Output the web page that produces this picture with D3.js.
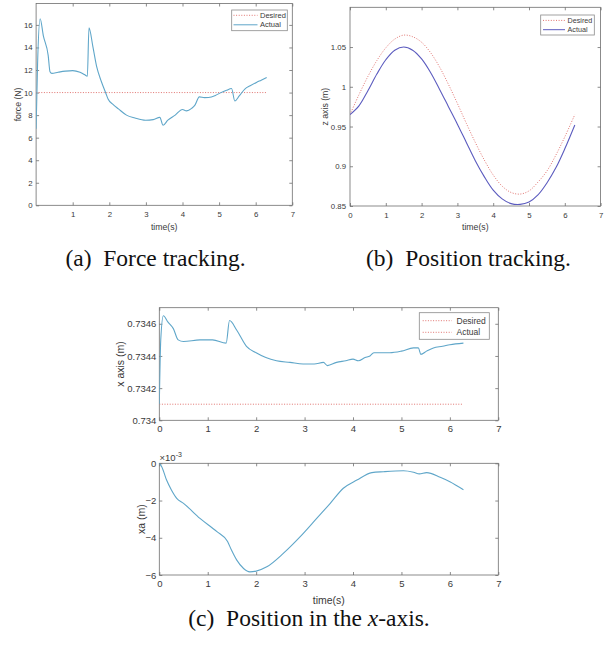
<!DOCTYPE html>
<html>
<head>
<meta charset="utf-8">
<script src="https://cdn.jsdelivr.net/npm/d3@7"></script>
<style>
  html, body { margin: 0; padding: 0; background: #fff; }
  svg { display: block; }
  .tick-label { font-family: "Liberation Sans", Arial, sans-serif; fill: #3a3a3a; }
  .caption { font-family: "Liberation Serif", "Times New Roman", serif; fill: #111; }
</style>
</head>
<body>
<svg id="fig" width="605" height="649"></svg>
<script>
// ---- (a) contact force ----
const forceTime   = [0.0, 0.04, 0.11, 0.2, 0.33, 0.38, 0.43, 0.6, 0.8, 1.0, 1.2, 1.32, 1.40, 1.445, 1.55, 1.655, 1.78, 1.91, 1.97, 2.1, 2.25, 2.47, 2.7, 2.99, 3.2, 3.38, 3.47, 3.6, 3.8, 4.0, 4.11, 4.25, 4.34, 4.46, 4.6, 4.71, 4.9, 5.02, 5.2, 5.34, 5.43, 5.55, 5.71, 5.85, 6.02, 6.15, 6.3];
const forceActual = [6.8, 12.5, 16.55, 15.0, 13.3, 11.85, 11.7, 11.8, 11.9, 11.95, 11.8, 11.6, 11.45, 15.75, 14.1, 12.3, 11.0, 9.9, 9.4, 8.95, 8.55, 8.0, 7.75, 7.55, 7.6, 7.8, 7.1, 7.55, 8.0, 8.5, 8.38, 8.6, 8.88, 9.62, 9.55, 9.56, 9.75, 9.95, 10.2, 10.36, 9.25, 9.7, 10.33, 10.6, 10.9, 11.1, 11.34];
const forceDesiredTime = [0.0, 6.28];
const forceDesired     = [10, 10];

// ---- (b) z position ----
const zTime    = [0, 0.25, 0.5, 0.75, 1.0, 1.25, 1.5, 1.75, 2.0, 2.25, 2.5, 2.75, 3.0, 3.25, 3.5, 3.75, 4.0, 4.25, 4.5, 4.75, 5.0, 5.25, 5.5, 5.75, 6.0, 6.28];
const zDesired = [0.965, 0.990, 1.013, 1.033, 1.049, 1.060, 1.065, 1.063, 1.056, 1.043, 1.025, 1.003, 0.979, 0.954, 0.930, 0.908, 0.889, 0.875, 0.867, 0.865, 0.869, 0.880, 0.894, 0.914, 0.937, 0.965];
const zActual  = [0.965, 0.976, 0.995, 1.016, 1.034, 1.046, 1.050, 1.046, 1.035, 1.018, 0.997, 0.975, 0.953, 0.930, 0.907, 0.887, 0.870, 0.859, 0.853, 0.852, 0.855, 0.864, 0.879, 0.898, 0.922, 0.952];

// ---- (c) x position ----
const xTime   = [0.0, 0.03, 0.083, 0.18, 0.29, 0.39, 0.5, 0.84, 1.1, 1.38, 1.45, 1.6, 1.8, 2.0, 2.2, 2.42, 2.7, 2.97, 3.2, 3.39, 3.47, 3.66, 3.85, 4.0, 4.11, 4.25, 4.35, 4.43, 4.76, 5.0, 5.25, 5.35, 5.4, 5.52, 5.66, 5.85, 6.0, 6.28];
const xActual = [0.73410, 0.73450, 0.73465, 0.73461, 0.73457, 0.73450, 0.73449, 0.73450, 0.73450, 0.73448, 0.73462, 0.73456, 0.73446, 0.73442, 0.73439, 0.73437, 0.73436, 0.73435, 0.73435, 0.73436, 0.73434, 0.73436, 0.73437, 0.73438, 0.73437, 0.73439, 0.73440, 0.73442, 0.73442, 0.73443, 0.73445, 0.73445, 0.73441, 0.73443, 0.73445, 0.73446, 0.73447, 0.73448];
const xDesiredTime = [0.0, 6.28];
const xDesired     = [0.7341, 0.7341];

// ---- (c) x error, units of 1e-3 m ----
const xaTime   = [0.0, 0.05, 0.15, 0.25, 0.36, 0.5, 0.84, 1.19, 1.41, 1.49, 1.6, 1.74, 1.87, 2.0, 2.22, 2.56, 2.91, 3.25, 3.53, 3.8, 4.08, 4.39, 4.63, 5.04, 5.25, 5.37, 5.52, 5.8, 6.0, 6.28];
const xaValues = [0.0, -0.18, -0.9, -1.43, -1.88, -2.15, -2.96, -3.67, -4.2, -4.66, -5.2, -5.65, -5.83, -5.79, -5.56, -4.84, -3.94, -2.96, -2.15, -1.34, -0.9, -0.5, -0.45, -0.4, -0.48, -0.57, -0.5, -0.75, -0.99, -1.42];

// ---- tick values ----
const timeTicks  = [0, 1, 2, 3, 4, 5, 6, 7];
const forceTicks = [0, 2, 4, 6, 8, 10, 12, 14, 16];
const zTicks     = [0.85, 0.9, 0.95, 1, 1.05];
const xTicks     = [0.734, 0.7342, 0.7344, 0.7346];
const xaTicks    = [-6, -4, -2, 0];

const desiredColor = "#e0736f";
const actualColor  = "#5fa6c9";
const zActualColor = "#5c5cbf";
const axisColor    = "#6e6e6e";

const svg = d3.select("#fig");

function panel(o) {
  const g = svg.append("g");
  const x = d3.scaleLinear().domain(o.xDomain).range([o.left, o.right]);
  const y = d3.scaleLinear().domain(o.yDomain).range([o.bottom, o.top]);
  const fs = o.fontSize;
  const tickLen = 3;

  // frame
  g.append("rect")
    .attr("x", o.left).attr("y", o.top)
    .attr("width", o.right - o.left).attr("height", o.bottom - o.top)
    .attr("fill", "none").attr("stroke", axisColor).attr("stroke-width", 0.8);

  // axes (inward ticks, mirrored on the top and right edges)
  const xAxisB = d3.axisBottom(x).tickValues(o.xTicks).tickSize(-tickLen).tickPadding(o.xPad).tickFormat(d3.format("d"));
  const xAxisT = d3.axisTop(x).tickValues(o.xTicks).tickSize(-tickLen).tickFormat("");
  const yAxisL = d3.axisLeft(y).tickValues(o.yTicks).tickSize(-tickLen).tickPadding(o.yPad).tickFormat(o.yFormat);
  const yAxisR = d3.axisRight(y).tickValues(o.yTicks).tickSize(-tickLen).tickFormat("");

  const axes = [
    [xAxisB, `translate(0,${o.bottom})`],
    [xAxisT, `translate(0,${o.top})`],
    [yAxisL, `translate(${o.left},0)`],
    [yAxisR, `translate(${o.right},0)`]
  ];
  axes.forEach(([ax, tr]) => {
    const a = g.append("g").attr("transform", tr).call(ax);
    a.select(".domain").remove();
    a.selectAll(".tick line").attr("stroke", axisColor).attr("stroke-width", 0.8);
    a.selectAll(".tick text").attr("class", "tick-label").attr("font-size", fs);
  });

  // axis titles
  if (o.xTitle) {
    g.append("text").attr("class", "tick-label").attr("font-size", o.titleSize)
      .attr("x", (o.left + o.right) / 2).attr("y", o.xTitleY)
      .attr("text-anchor", "middle").text(o.xTitle);
  }
  g.append("text").attr("class", "tick-label").attr("font-size", o.titleSize)
    .attr("transform", `translate(${o.yTitleX},${(o.top + o.bottom) / 2}) rotate(-90)`)
    .attr("text-anchor", "middle").text(o.yTitle);

  // series
  const clipId = "clip" + Math.round(o.left) + "_" + Math.round(o.top);
  g.append("clipPath").attr("id", clipId).append("rect")
    .attr("x", o.left).attr("y", o.top).attr("width", o.right - o.left).attr("height", o.bottom - o.top);
  o.series.forEach(s => {
    const line = d3.line().x(d => x(d[0])).y(d => y(d[1]))
      .curve(s.smooth ? d3.curveCatmullRom.alpha(0.5) : d3.curveMonotoneX);
    g.append("path")
      .datum(d3.zip(s.t, s.v))
      .attr("clip-path", `url(#${clipId})`)
      .attr("d", line)
      .attr("fill", "none")
      .attr("stroke", s.color)
      .attr("stroke-width", s.dotted ? 1 : 1.1)
      .attr("stroke-dasharray", s.dotted ? "1,1.6" : null);
  });

  // legend
  if (o.legend) {
    const L = o.legend;
    const lg = g.append("g");
    lg.append("rect").attr("x", L.x).attr("y", L.y).attr("width", L.w).attr("height", L.h)
      .attr("fill", "#fff").attr("stroke", "#8a8a8a").attr("stroke-width", 0.8);
    L.items.forEach((it, i) => {
      const yy = L.rowY[i];
      lg.append("line").attr("x1", L.sx0).attr("x2", L.sx1).attr("y1", yy).attr("y2", yy)
        .attr("stroke", it.color).attr("stroke-width", 1)
        .attr("stroke-dasharray", it.dotted ? "1,1.6" : null);
      lg.append("text").attr("class", "tick-label").attr("font-size", L.fs)
        .attr("x", L.tx).attr("y", yy).attr("dy", "0.35em").text(it.label);
    });
  }
  return { x, y };
}

// (a) force tracking
panel({
  left: 36.1, right: 292.3, top: 3.5, bottom: 205.3,
  xDomain: [0, 7], yDomain: [0, 17.9],
  xTicks: timeTicks.slice(1), yTicks: forceTicks, yFormat: d3.format("d"),
  fontSize: 7.8, titleSize: 8.7, xPad: 6, yPad: 3.5,
  xTitle: "time(s)", xTitleY: 229.5, yTitle: "force (N)", yTitleX: 21,
  series: [
    { t: forceDesiredTime, v: forceDesired, color: desiredColor, dotted: true },
    { t: forceTime, v: forceActual, color: actualColor }
  ],
  legend: { x: 231.7, y: 10, w: 55.6, h: 20.7, rowY: [15.3, 24.8], sx0: 233.5, sx1: 257.5, tx: 260, fs: 7.5,
    items: [{ label: "Desired", color: desiredColor, dotted: true }, { label: "Actual", color: actualColor }] }
});

// (b) position tracking
panel({
  left: 350, right: 600.6, top: 7.3, bottom: 206,
  xDomain: [0, 7], yDomain: [0.85, 1.1],
  xTicks: timeTicks, yTicks: zTicks, yFormat: d => String(d),
  fontSize: 7.8, titleSize: 8.7, xPad: 6, yPad: 4,
  xTitle: "time(s)", xTitleY: 229.5, yTitle: "z axis (m)", yTitleX: 327.5,
  series: [
    { t: zTime, v: zDesired, color: desiredColor, dotted: true, smooth: true },
    { t: zTime, v: zActual, color: zActualColor, smooth: true }
  ],
  legend: { x: 540.7, y: 15, w: 53.6, h: 20, rowY: [20.4, 29.7], sx0: 543, sx1: 565, tx: 567.5, fs: 7.2,
    items: [{ label: "Desired", color: desiredColor, dotted: true }, { label: "Actual", color: zActualColor }] }
});

// (c) x position
panel({
  left: 159.3, right: 498.3, top: 307.7, bottom: 420.3,
  xDomain: [0, 7], yDomain: [0.734, 0.7347],
  xTicks: timeTicks, yTicks: xTicks, yFormat: d => String(d),
  fontSize: 9.5, titleSize: 10.5, xPad: 5, yPad: 3,
  xTitle: "", xTitleY: 0, yTitle: "x axis (m)", yTitleX: 124,
  series: [
    { t: xDesiredTime, v: xDesired, color: desiredColor, dotted: true },
    { t: xTime, v: xActual, color: actualColor }
  ],
  legend: { x: 419.3, y: 312.7, w: 70, h: 26.6, rowY: [320.7, 332.3], sx0: 422.7, sx1: 451.7, tx: 456.5, fs: 8.5,
    items: [{ label: "Desired", color: desiredColor, dotted: true }, { label: "Actual", color: desiredColor, dotted: true }] }
});

// (c) x error
panel({
  left: 159.3, right: 498.3, top: 463.3, bottom: 575,
  xDomain: [0, 7], yDomain: [-6, 0],
  xTicks: timeTicks, yTicks: xaTicks, yFormat: d3.format("d"),
  fontSize: 9.5, titleSize: 10.5, xPad: 5, yPad: 3,
  xTitle: "time(s)", xTitleY: 604, yTitle: "xa (m)", yTitleX: 145,
  series: [
    { t: xaTime, v: xaValues, color: actualColor }
  ]
});

// exponent marker for the error axis
const expo = svg.append("text").attr("class", "tick-label").attr("font-size", 9.5)
  .attr("x", 159.5).attr("y", 461);
expo.append("tspan").text("\u00d710");
expo.append("tspan").attr("font-size", 7).attr("dy", -4.5).text("-3");

// sub-figure captions
const captions = [
  { text: "(a)\u2002Force tracking.", x: 155.5, y: 266 },
  { text: "(b)\u2002Position tracking.", x: 468.5, y: 266 }
];
captions.forEach(c => {
  svg.append("text").attr("class", "caption").attr("font-size", 23.5)
    .attr("x", c.x).attr("y", c.y).attr("text-anchor", "middle").text(c.text);
});
const capC = svg.append("text").attr("class", "caption").attr("font-size", 23.5)
  .attr("x", 309).attr("y", 626).attr("text-anchor", "middle");
capC.append("tspan").text("(c)\u2002Position in the ");
capC.append("tspan").attr("font-style", "italic").text("x");
capC.append("tspan").text("-axis.");
</script>
</body>
</html>
